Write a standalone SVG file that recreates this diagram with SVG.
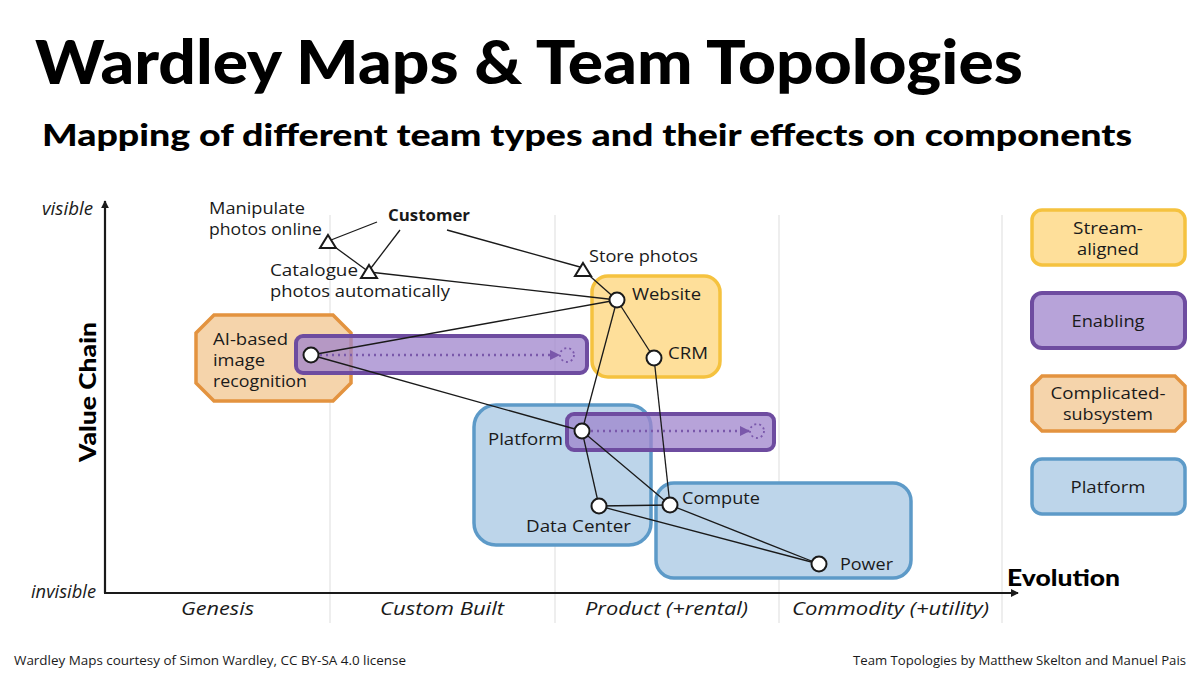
<svg xmlns="http://www.w3.org/2000/svg" width="1200" height="675" viewBox="0 0 1200 675">
<style>
text{font-family:"Open Sans","Liberation Sans",sans-serif;fill:#1a1a1a}
.t{font-size:16.5px}
.b{font-weight:bold}
.i{font-style:italic;font-size:18px}
.hh{font-family:Lato,"Liberation Sans",sans-serif;font-weight:900;fill:#000}
.grid{stroke:#e3e3e3;stroke-width:1.2}
.axis{stroke:#1a1a1a;stroke-width:2.2;fill:none}
.stream{fill:#fedf9a;stroke:#f5c23f;stroke-width:3.5}
.enab{fill:#9f84cc;fill-opacity:0.75;stroke:#6e4ca0;stroke-width:4}
.comp{fill:#f5d4ab;stroke:#e3933f;stroke-width:3.5}
.plat{fill:#bdd5ea;stroke:#5d9ac8;stroke-width:3.5}
.edge{stroke:#1a1a1a;stroke-width:1.3;fill:none}
.node{fill:#fff;stroke:#1a1a1a;stroke-width:2}
.evo{stroke:#7a58ab;stroke-width:2.5;stroke-dasharray:2 4;fill:none}
.ghost{stroke:#7a58ab;stroke-width:1.8;stroke-dasharray:2 3;fill:none}
.lg{font-size:16px;text-anchor:middle}
</style>
<defs>
<marker id="ah" viewBox="0 0 10 10" refX="9" refY="5" markerWidth="8" markerHeight="8" markerUnits="userSpaceOnUse" orient="auto"><path d="M0,0 L10,5 L0,10 z" fill="#1a1a1a"/></marker>
<marker id="pa" viewBox="0 0 10 10" refX="9" refY="5" markerWidth="10" markerHeight="10" markerUnits="userSpaceOnUse" orient="auto"><path d="M0,0 L10,5 L0,10 z" fill="#7a58ab"/></marker>
</defs>
<rect width="1200" height="675" fill="#fff"/>
<text x="35" y="84" font-size="60" class="hh" textLength="988" lengthAdjust="spacingAndGlyphs">Wardley Maps &amp; Team Topologies</text>
<text x="42" y="146" font-size="30" class="hh" textLength="1090" lengthAdjust="spacingAndGlyphs">Mapping of different team types and their effects on components</text>
<g id="grid">
<line class="grid" x1="330" y1="215" x2="330" y2="623"/>
<line class="grid" x1="555" y1="215" x2="555" y2="623"/>
<line class="grid" x1="779" y1="215" x2="779" y2="623"/>
<line class="grid" x1="1002" y1="215" x2="1002" y2="623"/>
</g>
<g id="axes">
<line class="axis" x1="105" y1="593" x2="105" y2="201" marker-end="url(#ah)"/>
<line class="axis" x1="104" y1="593" x2="1018" y2="593" marker-end="url(#ah)"/>
<text x="42" y="215" class="i" font-size="16" textLength="51" lengthAdjust="spacingAndGlyphs">visible</text>
<text x="31" y="598" class="i" font-size="16" textLength="65" lengthAdjust="spacingAndGlyphs">invisible</text>
<text transform="translate(96,392) rotate(-90)" font-size="23" class="hh" text-anchor="middle" textLength="140" lengthAdjust="spacingAndGlyphs">Value Chain</text>
<text x="1007" y="586" font-size="22" class="hh" textLength="113" lengthAdjust="spacingAndGlyphs">Evolution</text>
<text x="181" y="615" class="i" textLength="73" lengthAdjust="spacingAndGlyphs">Genesis</text>
<text x="380" y="615" class="i" textLength="124" lengthAdjust="spacingAndGlyphs">Custom Built</text>
<text x="585" y="615" class="i" textLength="163" lengthAdjust="spacingAndGlyphs">Product (+rental)</text>
<text x="792" y="615" class="i" textLength="197" lengthAdjust="spacingAndGlyphs">Commodity (+utility)</text>
</g>
<g id="teams">
<g id="team-platform-1"><rect class="plat" x="474" y="405" width="177" height="140" rx="22"/></g>
<g id="team-platform-2"><rect class="plat" x="656" y="483" width="255" height="95" rx="18"/></g>
<g id="team-stream"><rect class="stream" x="592" y="276" width="128" height="101" rx="16"/></g>
<g id="team-complicated"><polygon class="comp" points="214,315 333,315 351,333 351,383 333,401 214,401 196,383 196,333"/></g>
<g id="team-enabling-1"><rect class="enab" x="296" y="336" width="291" height="37" rx="7"/>
<line class="evo" x1="320" y1="355" x2="559" y2="355" marker-end="url(#pa)"/>
<circle class="ghost" cx="567" cy="355" r="7"/></g>
<g id="team-enabling-2"><rect class="enab" x="567" y="414" width="207" height="36" rx="7"/>
<line class="evo" x1="591" y1="431" x2="749" y2="431" marker-end="url(#pa)"/>
<circle class="ghost" cx="757" cy="431" r="7"/></g>
</g>
<g id="connectors">
<line class="edge" x1="377" y1="222" x2="331" y2="240"/>
<line class="edge" x1="400" y1="230" x2="371" y2="268"/>
<line class="edge" x1="447" y1="230" x2="580" y2="267"/>
<line class="edge" x1="328" y1="242" x2="369" y2="272"/>
<line class="edge" x1="369" y1="272" x2="617" y2="300"/>
<line class="edge" x1="583" y1="270" x2="617" y2="300"/>
<line class="edge" x1="311" y1="355" x2="617" y2="300"/>
<line class="edge" x1="311" y1="355" x2="582" y2="431"/>
<line class="edge" x1="617" y1="300" x2="582" y2="431"/>
<line class="edge" x1="617" y1="300" x2="654" y2="358"/>
<line class="edge" x1="654" y1="358" x2="670" y2="505"/>
<line class="edge" x1="582" y1="431" x2="599" y2="506"/>
<line class="edge" x1="582" y1="431" x2="670" y2="505"/>
<line class="edge" x1="599" y1="506" x2="670" y2="505"/>
<line class="edge" x1="599" y1="506" x2="819" y2="564"/>
<line class="edge" x1="670" y1="505" x2="819" y2="564"/>
</g>
<g id="customer"><text x="388" y="221" class="t b" textLength="82" lengthAdjust="spacingAndGlyphs">Customer</text></g>
<g id="manipulate"><polygon class="node" points="328,235 336,248 320,248"/>
<text x="209" y="214" class="t" textLength="96" lengthAdjust="spacingAndGlyphs">Manipulate</text><text x="209" y="235" class="t" textLength="113" lengthAdjust="spacingAndGlyphs">photos online</text></g>
<g id="catalogue"><polygon class="node" points="369,265 377,278 361,278"/>
<text x="270" y="276" class="t" textLength="88" lengthAdjust="spacingAndGlyphs">Catalogue</text><text x="270" y="297" class="t" textLength="180" lengthAdjust="spacingAndGlyphs">photos automatically</text></g>
<g id="store"><polygon class="node" points="583,263 591,276 575,276"/>
<text x="589" y="262" class="t" textLength="109" lengthAdjust="spacingAndGlyphs">Store photos</text></g>
<g id="website"><circle class="node" cx="617" cy="300" r="7.5"/><text x="632" y="300" class="t" textLength="69" lengthAdjust="spacingAndGlyphs">Website</text></g>
<g id="crm"><circle class="node" cx="654" cy="358" r="7.5"/><text x="668" y="359" class="t" textLength="40" lengthAdjust="spacingAndGlyphs">CRM</text></g>
<g id="ai"><circle class="node" cx="311" cy="355" r="7.5"/>
<text x="213" y="345" class="t" textLength="75" lengthAdjust="spacingAndGlyphs">AI-based</text><text x="213" y="366" class="t" textLength="52" lengthAdjust="spacingAndGlyphs">image</text><text x="213" y="387" class="t" textLength="94" lengthAdjust="spacingAndGlyphs">recognition</text></g>
<g id="platform"><circle class="node" cx="582" cy="431" r="7.5"/><text x="488" y="445" class="t" textLength="75" lengthAdjust="spacingAndGlyphs">Platform</text></g>
<g id="datacenter"><circle class="node" cx="599" cy="506" r="7.5"/><text x="526" y="532" class="t" textLength="105" lengthAdjust="spacingAndGlyphs">Data Center</text></g>
<g id="compute"><circle class="node" cx="670" cy="505" r="7.5"/><text x="682" y="504" class="t" textLength="78" lengthAdjust="spacingAndGlyphs">Compute</text></g>
<g id="power"><circle class="node" cx="819" cy="564" r="7.5"/><text x="840" y="570" class="t" textLength="53" lengthAdjust="spacingAndGlyphs">Power</text></g>
<g id="legend">
<g id="lg-stream"><rect class="stream" x="1032" y="210" width="153" height="55" rx="10"/><text x="1108" y="234" class="lg" textLength="70" lengthAdjust="spacingAndGlyphs">Stream-</text><text x="1108" y="255" class="lg" textLength="62" lengthAdjust="spacingAndGlyphs">aligned</text></g>
<g id="lg-enabling"><rect class="enab" x="1032" y="293" width="153" height="55" rx="10"/><text x="1108" y="327" class="lg" textLength="73" lengthAdjust="spacingAndGlyphs">Enabling</text></g>
<g id="lg-complicated"><polygon class="comp" points="1042,376 1175,376 1185,386 1185,421 1175,431 1042,431 1032,421 1032,386"/><text x="1108" y="399" class="lg" textLength="115" lengthAdjust="spacingAndGlyphs">Complicated-</text><text x="1108" y="420" class="lg" textLength="90" lengthAdjust="spacingAndGlyphs">subsystem</text></g>
<g id="lg-platform"><rect class="plat" x="1032" y="459" width="153" height="55" rx="10"/><text x="1108" y="493" class="lg" textLength="75" lengthAdjust="spacingAndGlyphs">Platform</text></g>
</g>
<g id="footer">
<text x="14" y="665" font-size="13" textLength="392" lengthAdjust="spacingAndGlyphs">Wardley Maps courtesy of Simon Wardley, CC BY-SA 4.0 license</text>
<text x="853" y="665" font-size="13" textLength="333" lengthAdjust="spacingAndGlyphs">Team Topologies by Matthew Skelton and Manuel Pais</text>
</g>
</svg>
